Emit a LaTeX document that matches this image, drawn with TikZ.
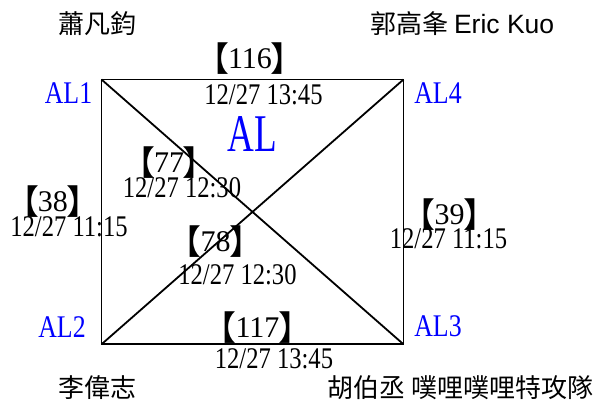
\documentclass[tikz,border=0pt]{standalone}
\usepackage{fontspec}
\setmainfont{Liberation Serif}[FakeStretch=0.82]
\newfontfamily\plainserif{Liberation Serif}
\newfontfamily\cjk{Noto Sans CJK TC}
\newfontfamily\brk{Noto Sans CJK TC}
\newfontfamily\arial{Liberation Sans}
\newfontfamily\cornerfont{Liberation Serif}[FakeStretch=0.82]
\newfontfamily\bigal{Liberation Serif}[FakeStretch=0.7]
\newcommand\bk[1]{\raisebox{-2.5pt}{\brk\fontsize{34}{36}\selectfont 【}\kern-1.1pt{\plainserif #1}\kern-1.1pt\raisebox{-2.5pt}{\brk\fontsize{34}{36}\selectfont 】}}
\tikzset{
  lbl/.style={anchor=base, inner sep=0pt, font=\fontsize{30}{32}\selectfont},
  cornerlbl/.style={anchor=base, inner sep=0pt, text=blue, font=\cornerfont\fontsize{31.5}{33}\selectfont},
  namelbl/.style={anchor=base west, inner sep=0pt, font=\cjk\fontsize{26}{28}\selectfont},
  edge/.style={line width=1.8pt, line join=miter}
}
\begin{document}
\begin{tikzpicture}[x=1pt,y=-1pt]
\useasboundingbox (0,0) rectangle (608,403);
\coordinate (c1) at (101.5,79.5);
\coordinate (c4) at (403.5,79.5);
\coordinate (c2) at (101.5,344.3);
\coordinate (c3) at (403.5,344.3);
\draw[edge] (c1) -- (c4) -- (c3) -- (c2) -- cycle;
\draw[edge] (c1) -- (c3);
\draw[edge] (c2) -- (c4);

\node[namelbl] (name1) at (58,33.5) {蕭凡鈞};
\node[namelbl] (name4) at (370,33.5) {郭高夆 {\arial\fontsize{26.5}{28}\selectfont Eric Kuo}};
\node[namelbl] (name2) at (58,398) {李偉志};
\node[namelbl] (name3) at (327,398) {胡伯丞 噗哩噗哩特攻隊};

\node[cornerlbl] (al1) at (68.5,104) {AL1};
\node[cornerlbl] (al4) at (438,104) {AL4};
\node[cornerlbl] (al2) at (62,338) {AL2};
\node[cornerlbl] (al3) at (438,337) {AL3};
\node[anchor=base, inner sep=0pt, text=blue, font=\bigal\fontsize{53}{55}\selectfont] (al) at (252.5,152) {AL};

\node[lbl] (n116) at (250,69) {\bk{116}};
\node[lbl] (d116) at (263.5,104.5) {12/27 13:45};
\node[lbl] (n77) at (169,173) {\bk{77}};
\node[lbl] (d77) at (182,198) {12/27 12:30};
\node[lbl] (n38) at (53,212) {\bk{38}};
\node[lbl] (d38) at (69,237) {12/27 11:15};
\node[lbl] (n39) at (449.5,225) {\bk{39}};
\node[lbl] (d39) at (448.5,249) {12/27 11:15};
\node[lbl] (n78) at (215.5,252) {\bk{78}};
\node[lbl] (d78) at (237.5,285) {12/27 12:30};
\node[lbl] (n117) at (257.5,338) {\bk{117}};
\node[lbl] (d117) at (274,369) {12/27 13:45};
\end{tikzpicture}
\end{document}
